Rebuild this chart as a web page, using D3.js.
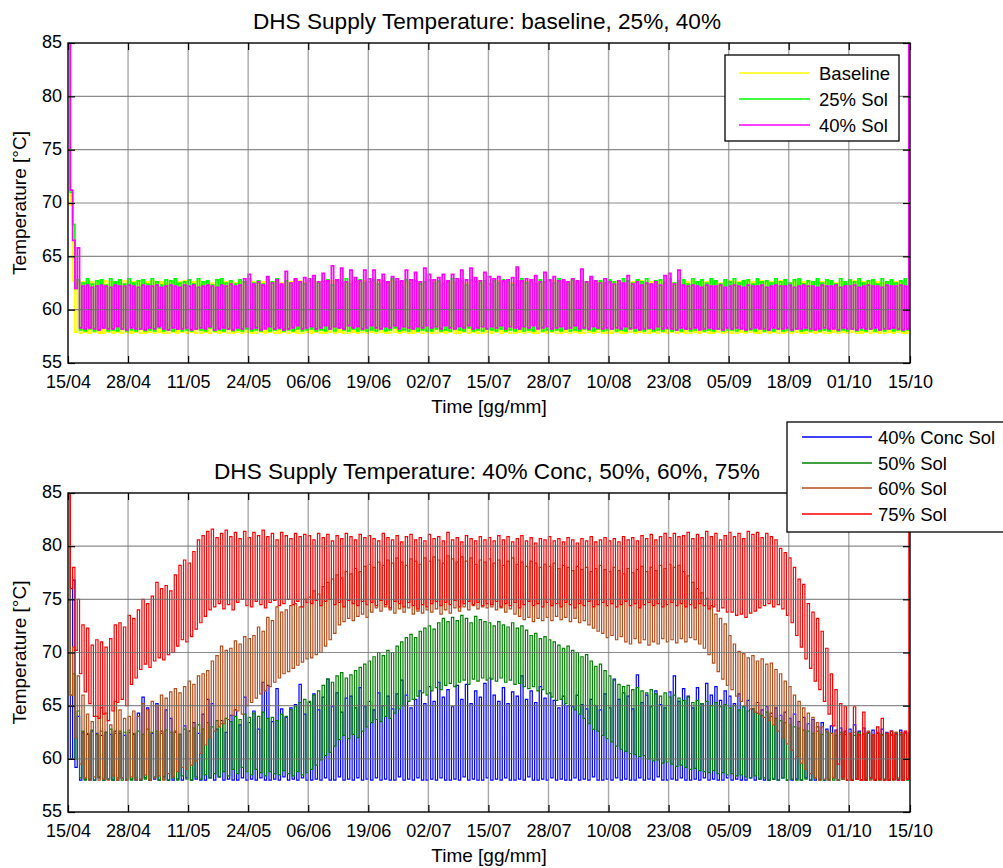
<!DOCTYPE html>
<html>
<head>
<meta charset="utf-8">
<script src="https://cdn.jsdelivr.net/npm/d3@7"></script>
<style>
  body { margin: 0; background: #fff; }
  svg { display: block; }
  text { font-family: "Liberation Sans", Arial, Helvetica, sans-serif; fill: #000; }
</style>
</head>
<body>
<svg id="chart" width="1003" height="868"></svg>
<script>
// ---------- axis values ----------
const tickDays   = [0, 13, 26, 39, 52, 65, 78, 91, 104, 117, 130, 143, 156, 169, 182.25];
const tickLabels = ["15/04","28/04","11/05","24/05","06/06","19/06","02/07","15/07",
                    "28/07","10/08","23/08","05/09","18/09","01/10","15/10"];
const tempTicks  = [55, 60, 65, 70, 75, 80, 85];
const dayEnd     = 182.25;   // right edge of the time axis
const lastDay    = 182.0;    // time of the final recorded value

// ---------- daily peak / trough supply temperatures [°C], 15/04 .. 14/10 ----------
// Baseline
const baseHigh = [
  85,62.7,62.6,62.6,62.7,62.6,62.5,62.6,62.7,62.6,62.6,62.5,62.7,
  62.6,62.6,62.7,62.5,62.6,62.7,62.6,62.6,62.5,62.7,62.6,62.6,62.7,
  62.5,62.6,62.7,62.6,62.6,62.5,62.7,62.6,62.6,62.7,62.5,62.6,62.6,
  62.7,62.6,62.5,62.6,62.7,62.6,62.6,62.5,62.7,62.6,62.6,62.7,62.5,
  62.6,62.7,62.6,62.5,62.6,62.7,62.6,62.6,62.5,62.7,62.6,62.6,62.7,
  62.6,62.5,62.7,62.6,62.6,62.7,62.5,62.6,62.6,62.7,62.6,62.5,62.6,
  62.7,62.6,62.6,62.5,62.7,62.6,62.6,62.7,62.5,62.6,62.6,62.7,62.6,
  62.5,62.6,62.7,62.6,62.6,62.5,62.7,62.6,62.6,62.7,62.5,62.6,62.6,
  62.6,62.7,62.5,62.6,62.6,62.7,62.6,62.5,62.6,62.7,62.6,62.6,62.5,
  62.7,62.6,62.6,62.5,62.7,62.6,62.6,62.7,62.5,62.6,62.6,62.7,62.6,
  62.6,62.5,62.7,62.6,62.6,62.7,62.5,62.6,62.6,62.7,62.6,62.5,62.6,
  62.7,62.6,62.6,62.5,62.7,62.6,62.6,62.7,62.5,62.6,62.6,62.7,62.6,
  62.5,62.6,62.7,62.6,62.6,62.5,62.7,62.6,62.6,62.7,62.5,62.6,62.6,
  62.6,62.7,62.5,62.6,62.6,62.7,62.6,62.5,62.6,62.7,62.6,62.6,62.6
];
const baseLow = [
  69.8,57.9,57.8,57.9,57.8,57.9,57.8,57.8,57.9,57.8,57.9,57.8,57.9,
  57.8,57.9,57.8,57.8,57.9,57.8,57.9,57.8,57.8,57.9,57.8,57.9,57.8,
  57.9,57.8,57.8,57.9,57.8,57.9,57.8,57.9,57.8,57.8,57.9,57.8,57.9,
  57.8,57.8,57.9,57.8,57.9,57.8,57.8,57.9,57.8,57.9,57.8,57.8,57.9,
  57.8,57.9,57.8,57.8,57.9,57.8,57.9,57.8,57.8,57.9,57.8,57.9,57.8,
  57.9,57.8,57.9,57.8,57.8,57.9,57.8,57.9,57.8,57.8,57.9,57.8,57.9,
  57.8,57.8,57.9,57.8,57.9,57.8,57.8,57.9,57.8,57.9,57.8,57.8,57.9,
  57.8,57.9,57.8,57.9,57.8,57.8,57.9,57.8,57.9,57.8,57.8,57.9,57.8,
  57.9,57.8,57.8,57.9,57.8,57.9,57.8,57.8,57.9,57.8,57.9,57.8,57.8,
  57.8,57.9,57.8,57.8,57.9,57.8,57.9,57.8,57.8,57.9,57.8,57.9,57.8,
  57.9,57.8,57.9,57.8,57.8,57.9,57.8,57.9,57.8,57.8,57.9,57.8,57.9,
  57.8,57.8,57.9,57.8,57.9,57.8,57.8,57.9,57.8,57.9,57.8,57.8,57.9,
  57.8,57.9,57.8,57.8,57.9,57.8,57.9,57.8,57.8,57.9,57.8,57.9,57.8,
  57.9,57.8,57.8,57.9,57.8,57.9,57.8,57.8,57.9,57.8,57.9,57.8,57.8
];
// 25% Sol
const sol25High = [
  85,68.0,62.8,62.5,62.9,62.4,62.7,62.8,62.3,62.9,62.6,62.8,62.4,
  62.9,62.5,62.7,62.8,62.4,62.9,62.6,62.3,62.8,62.7,62.9,62.5,62.6,
  62.8,62.4,62.9,62.6,62.7,62.3,62.8,62.9,62.5,62.7,62.4,62.8,62.6,
  62.9,62.5,62.7,62.4,62.8,62.6,62.9,62.3,62.7,62.5,62.8,62.6,62.4,
  62.7,62.9,62.5,62.6,62.8,62.3,62.7,62.5,62.9,62.4,62.6,62.8,62.5,
  62.6,62.8,62.4,62.7,62.5,62.9,62.6,62.3,62.8,62.5,62.7,62.4,62.6,
  62.8,62.5,62.7,62.4,62.6,62.9,62.5,62.7,62.3,62.8,62.6,62.5,62.7,
  62.4,62.7,62.5,62.8,62.6,62.3,62.7,62.9,62.5,62.6,62.4,62.8,62.6,
  62.7,62.5,62.9,62.6,62.4,62.8,62.5,62.7,62.6,62.9,62.4,62.7,62.5,
  62.8,62.6,62.4,62.9,62.7,62.5,62.8,62.6,62.9,62.4,62.7,62.8,62.5,
  62.9,62.5,62.7,62.8,62.4,62.9,62.6,62.8,62.5,62.9,62.7,62.4,62.8,
  62.6,62.9,62.5,62.7,62.8,62.4,62.9,62.6,62.7,62.5,62.9,62.6,62.8,
  62.5,62.8,62.9,62.4,62.7,62.6,62.9,62.5,62.8,62.7,62.4,62.9,62.6,
  62.8,62.6,62.9,62.5,62.7,62.8,62.4,62.9,62.6,62.8,62.5,62.7,62.9
];
const sol25Low = [
  71.0,62.0,58.1,58.0,58.2,58.0,58.1,58.3,58.0,58.1,58.0,58.2,58.0,
  58.1,58.0,58.2,58.0,58.1,58.0,58.3,58.0,58.1,58.0,58.2,58.0,58.1,
  58.0,58.2,58.1,58.0,58.3,58.0,58.1,58.0,58.2,58.0,58.1,58.0,58.2,
  58.0,58.1,58.0,58.3,58.0,58.1,58.2,58.0,58.1,58.0,58.2,58.0,58.1,
  58.2,58.0,58.1,58.0,58.2,58.0,58.3,58.1,58.0,58.2,58.0,58.1,58.0,
  58.1,58.0,58.2,58.0,58.1,58.3,58.0,58.1,58.0,58.2,58.0,58.1,58.0,
  58.0,58.2,58.0,58.1,58.0,58.2,58.1,58.0,58.3,58.0,58.1,58.0,58.2,
  58.1,58.0,58.2,58.0,58.1,58.0,58.2,58.0,58.1,58.0,58.3,58.0,58.1,
  58.0,58.1,58.0,58.2,58.0,58.1,58.0,58.2,58.1,58.0,58.2,58.0,58.1,
  58.2,58.0,58.1,58.0,58.3,58.0,58.1,58.0,58.2,58.0,58.1,58.0,58.2,
  58.0,58.1,58.0,58.2,58.0,58.1,58.2,58.0,58.1,58.0,58.2,58.0,58.1,
  58.1,58.0,58.2,58.0,58.1,58.0,58.3,58.0,58.1,58.0,58.2,58.0,58.1,
  58.0,58.2,58.0,58.1,58.0,58.2,58.0,58.1,58.0,58.3,58.0,58.1,58.0,
  58.2,58.0,58.1,58.0,58.2,58.0,58.1,58.0,58.2,58.0,58.1,58.0,58.1
];
// 40% Sol
const sol40High = [
  85,66.5,65.8,62.2,62.3,62.1,62.2,62.3,62.2,62.1,62.3,62.2,62.2,
  62.3,62.2,62.1,62.3,62.2,62.2,62.3,62.1,62.2,62.3,62.2,62.1,62.3,
  62.2,62.3,62.1,62.2,62.3,62.2,62.1,62.3,62.2,62.4,62.2,62.3,62.9,
  63.3,62.4,62.6,62.3,63.1,62.5,62.8,62.4,63.6,62.5,62.9,62.6,63.0,
  62.9,63.2,62.6,63.4,62.7,64.1,62.8,63.9,62.6,63.7,63.0,62.7,63.7,
  62.9,63.7,62.8,63.3,62.6,63.1,62.9,62.7,63.7,62.8,63.5,62.6,63.9,
  63.3,62.8,63.0,63.3,62.7,63.3,62.9,63.7,62.8,63.9,63.0,62.7,63.5,
  63.1,62.9,63.1,62.7,62.8,63.0,64.0,62.7,62.9,62.8,63.2,62.6,63.5,
  62.8,63.1,62.7,62.8,62.6,62.9,62.7,63.8,62.6,63.1,62.7,62.5,62.9,
  62.6,62.4,62.7,62.5,63.2,62.4,62.6,62.3,62.5,62.4,62.6,62.3,63.2,
  63.4,62.4,63.7,62.3,62.2,62.3,62.2,62.1,62.3,62.2,62.2,62.3,62.1,
  62.2,62.3,62.2,62.1,62.3,62.2,62.2,62.3,62.1,62.2,62.3,62.2,62.2,
  62.3,62.1,62.2,62.3,62.2,62.2,62.1,62.3,62.2,62.2,62.3,62.1,62.2,
  62.2,62.3,62.1,62.2,62.3,62.2,62.2,62.1,62.3,62.2,62.2,62.3,62.2
];
const sol40Low = [
  71.2,62.0,58.3,58.2,58.3,58.2,58.1,58.3,58.2,58.2,58.4,58.2,58.1,
  58.3,58.2,58.2,58.1,58.3,58.2,58.4,58.2,58.1,58.3,58.2,58.2,58.3,
  58.1,58.2,58.3,58.2,58.4,58.1,58.2,58.3,58.2,58.1,58.3,58.2,58.4,
  58.2,58.3,58.1,58.2,58.4,58.2,58.3,58.1,58.2,58.3,58.5,58.2,58.3,
  58.4,58.2,58.3,58.5,58.2,58.4,58.3,58.2,58.5,58.3,58.4,58.2,58.3,
  58.5,58.3,58.2,58.4,58.3,58.5,58.2,58.4,58.3,58.2,58.4,58.3,58.5,
  58.3,58.4,58.2,58.5,58.3,58.2,58.4,58.3,58.5,58.2,58.3,58.4,58.2,
  58.4,58.3,58.5,58.2,58.4,58.3,58.2,58.4,58.3,58.5,58.2,58.3,58.4,
  58.2,58.3,58.4,58.2,58.3,58.5,58.2,58.3,58.2,58.4,58.3,58.2,58.3,
  58.2,58.3,58.2,58.4,58.2,58.3,58.1,58.2,58.3,58.2,58.4,58.2,58.3,
  58.2,58.1,58.3,58.2,58.2,58.3,58.1,58.2,58.3,58.2,58.2,58.1,58.3,
  58.2,58.3,58.2,58.1,58.2,58.3,58.2,58.2,58.1,58.3,58.2,58.2,58.3,
  58.1,58.2,58.2,58.3,58.2,58.1,58.2,58.3,58.2,58.2,58.1,58.3,58.2,
  58.2,58.1,58.3,58.2,58.2,58.3,58.1,58.2,58.2,58.3,58.2,58.1,58.2
];
// 40% Conc Sol
const conc40High = [
  85,76.8,64.0,62.5,62.3,62.6,62.4,62.2,62.5,62.3,62.6,62.4,62.2,
  62.5,62.3,64.3,65.8,64.8,62.4,65.2,62.6,64.6,63.8,62.5,62.3,63.1,
  62.6,63.4,62.4,64.2,65.6,65.2,62.8,63.6,62.5,64.1,64.6,63.2,65.8,
  63.4,64.5,62.8,67.2,66.9,63.5,66.6,64.7,63.9,64.8,65.1,67.0,64.2,
  65.3,66.1,64.6,65.8,67.5,64.9,66.2,64.4,65.7,65.9,64.8,66.7,64.9,
  65.4,64.6,66.2,65.0,65.9,64.7,66.1,67.4,66.0,64.8,65.6,66.4,65.2,
  66.8,65.4,67.2,65.8,66.5,64.9,66.9,65.6,67.0,65.2,66.4,65.8,67.1,
  67.6,66.0,65.4,66.7,65.2,66.3,65.9,67.8,65.6,66.4,65.3,66.8,65.7,
  66.2,65.5,64.8,65.9,65.0,64.9,66.0,65.1,64.7,65.6,65.0,64.6,66.1,
  64.8,67.5,65.6,66.2,65.9,64.7,67.9,65.3,66.0,64.9,66.4,65.1,64.8,
  66.3,67.8,65.4,66.6,65.9,64.8,66.7,65.2,67.1,66.0,66.8,65.5,66.4,
  65.9,65.2,66.1,64.9,65.5,64.7,65.3,64.6,64.9,64.3,64.8,64.1,64.4,
  63.8,64.2,63.5,63.9,63.3,63.7,63.0,63.4,62.8,63.1,62.7,62.9,62.6,
  62.8,63.2,62.6,62.9,62.5,62.7,62.4,62.8,62.5,62.6,62.4,62.7,62.5
];
const conc40Low = [
  60.0,59.2,58.0,58.1,58.0,58.0,58.2,58.0,58.1,58.0,58.0,58.2,58.0,
  58.1,58.0,58.0,58.2,58.0,58.1,58.0,58.3,58.0,58.0,58.1,58.0,58.2,
  58.0,58.1,58.0,58.0,58.2,58.0,58.3,58.0,58.1,58.0,58.0,58.2,58.0,
  58.1,58.0,58.2,58.0,58.0,58.1,58.0,58.3,58.0,58.1,58.0,58.2,58.0,
  58.0,58.1,58.0,58.2,58.0,58.0,58.3,58.0,58.1,58.0,58.2,58.0,58.1,
  58.0,58.2,58.0,58.1,58.0,58.0,58.3,58.0,58.1,58.0,58.2,58.0,58.0,
  58.1,58.0,58.2,58.0,58.0,58.1,58.0,58.3,58.0,58.1,58.0,58.0,58.2,
  58.0,58.1,58.0,58.2,58.0,58.0,58.1,58.0,58.3,58.0,58.0,58.1,58.0,
  58.2,58.0,58.1,58.0,58.0,58.2,58.0,58.1,58.0,58.3,58.0,58.0,58.1,
  58.0,58.2,58.0,58.1,58.0,58.0,58.2,58.0,58.1,58.0,58.3,58.0,58.0,
  58.1,58.0,58.2,58.0,58.0,58.1,58.0,58.2,58.0,58.1,58.0,58.0,58.2,
  58.0,58.1,58.0,58.0,58.2,58.0,58.1,58.0,58.0,58.1,58.0,58.2,58.0,
  58.0,58.1,58.0,58.2,58.0,58.0,58.1,58.0,58.0,58.2,58.0,58.1,58.0,
  58.0,58.1,58.0,58.0,58.2,58.0,58.1,58.0,58.0,58.1,58.0,58.0,58.1
];
// 50% Sol
const sol50High = [
  85,68.0,64.5,62.6,62.4,62.7,62.3,62.6,62.5,62.8,62.4,62.6,62.5,
  62.7,62.4,62.6,62.3,62.8,62.5,62.6,62.4,62.7,62.5,62.6,62.3,62.8,
  62.6,62.9,63.2,62.8,63.4,63.0,63.6,63.3,63.8,63.5,64.0,63.7,64.2,
  63.9,64.3,64.0,64.4,63.8,63.9,63.6,64.2,64.0,64.6,64.9,65.3,65.6,
  65.4,66.0,66.4,66.9,67.5,67.2,67.8,68.1,67.6,67.9,68.3,68.6,68.9,
  69.2,69.6,70.0,69.7,70.2,70.0,70.6,71.0,71.4,71.7,71.4,72.0,72.3,
  72.5,72.2,72.8,73.2,72.9,73.3,73.0,73.5,73.2,72.8,73.4,73.1,72.9,
  72.8,72.5,72.9,72.6,72.4,72.8,72.3,72.5,72.1,71.6,71.8,71.3,71.5,
  71.2,71.0,70.7,70.4,70.6,70.2,70.0,69.6,69.8,69.2,68.7,68.9,68.3,
  67.8,67.4,67.0,66.8,66.9,66.5,66.7,66.4,66.2,66.5,66.1,65.9,66.2,
  65.8,66.0,65.7,65.5,65.8,65.3,65.5,65.2,65.4,65.0,65.3,64.9,65.1,
  64.8,65.0,64.6,64.9,64.5,64.7,64.3,64.1,64.4,64.0,63.8,63.6,63.4,
  63.2,63.0,62.9,62.7,62.6,62.4,62.6,62.3,62.5,62.4,62.2,62.5,62.3,
  62.4,62.2,62.5,62.3,62.4,62.2,62.5,62.3,62.4,62.2,62.5,62.3,62.4
];
const sol50Low = [
  66.0,60.0,58.2,58.0,58.1,58.0,58.3,58.0,58.1,58.0,58.2,58.0,58.1,
  58.0,58.2,58.0,58.1,58.0,58.3,58.0,58.1,58.0,58.2,58.0,58.4,58.1,
  58.0,58.3,58.1,58.5,58.2,58.6,58.3,58.8,58.4,59.0,58.6,59.2,58.8,
  58.5,59.0,58.7,58.4,58.8,58.6,58.5,58.9,58.6,58.4,58.8,58.5,58.7,
  59.0,59.4,59.9,60.3,60.6,61.2,61.8,62.2,61.9,62.3,62.0,62.6,63.0,
  63.4,63.7,63.5,64.0,63.8,64.3,64.7,65.0,65.4,65.6,65.9,66.2,66.0,
  66.4,66.7,66.5,66.9,67.1,66.8,67.2,67.4,67.0,67.5,67.3,67.6,67.4,
  67.5,67.3,67.6,67.2,67.4,67.0,67.1,66.8,66.6,66.8,66.4,66.5,66.1,
  65.8,65.5,65.6,65.2,65.0,64.6,64.2,63.8,63.3,62.8,62.6,62.2,61.9,
  61.6,61.2,60.9,60.7,60.5,60.4,60.2,60.3,60.0,59.8,59.9,59.6,59.7,
  59.5,59.3,59.4,59.2,59.0,59.1,58.9,58.8,58.7,58.9,58.6,58.7,58.5,
  58.6,58.4,58.5,58.3,58.2,58.4,58.1,58.2,58.0,58.1,58.0,58.2,58.0,
  58.1,58.0,58.0,58.1,58.0,58.2,58.0,58.0,58.1,58.0,58.0,58.1,58.0,
  58.0,58.1,58.0,58.0,58.1,58.0,58.0,58.1,58.0,58.0,58.1,58.0,58.0
];
// 60% Sol
const sol60High = [
  85,70.5,67.8,66.0,64.2,63.5,64.0,64.8,64.3,63.2,65.4,64.6,63.8,
  64.0,64.5,64.0,65.2,64.6,65.4,65.0,66.0,65.7,66.3,66.6,66.2,66.8,
  67.3,67.0,67.8,68.0,68.3,69.2,69.7,70.6,70.2,70.4,71.1,70.8,71.5,
  71.3,71.6,72.4,72.0,73.3,73.0,74.3,73.8,74.0,74.4,74.6,74.3,75.0,
  75.2,75.8,75.5,76.2,76.6,76.9,77.3,77.0,77.6,77.4,77.9,77.6,78.1,
  78.3,78.0,78.5,78.2,78.7,78.4,78.9,78.5,78.2,78.8,78.6,78.3,78.9,
  78.6,79.0,78.7,78.4,79.1,78.8,78.5,79.0,78.6,78.9,78.3,78.7,78.5,
  78.8,78.4,78.7,78.2,78.6,78.9,78.3,78.5,78.1,78.6,78.4,78.0,78.3,
  78.1,78.4,77.9,78.2,78.0,77.7,78.1,77.8,78.0,77.6,77.9,78.2,77.8,
  77.6,78.0,77.7,77.4,77.9,77.5,77.8,78.1,77.6,78.0,77.7,78.2,77.9,
  78.3,78.0,78.2,77.6,77.2,76.6,76.0,75.6,75.1,74.4,73.6,73.2,72.7,
  71.6,70.8,70.1,69.9,69.5,69.7,69.2,69.4,68.9,69.0,68.4,68.0,67.3,
  66.8,66.0,65.4,64.8,64.3,63.9,63.4,63.0,62.6,62.4,62.6,62.3,62.5,
  62.3,62.5,62.2,62.4,62.6,62.3,62.5,62.2,62.4,62.3,62.5,62.2,62.4
];
const sol60Low = [
  66.0,62.0,59.5,58.2,58.0,58.3,58.0,58.1,58.0,58.4,58.0,58.2,58.0,
  58.3,58.0,58.1,58.5,58.0,58.2,58.4,58.0,58.6,58.3,58.8,59.2,59.0,
  59.4,59.8,60.5,61.3,62.0,62.6,63.0,63.3,63.7,64.1,64.5,64.2,65.0,
  65.3,65.7,66.1,66.4,66.8,67.2,67.6,68.0,68.2,68.5,68.8,69.1,69.4,
  69.5,69.8,70.0,70.6,71.2,71.8,72.6,72.9,73.2,73.0,73.4,73.6,73.3,
  73.8,74.2,73.9,74.3,74.0,73.7,74.1,73.8,74.2,73.6,73.9,73.7,74.0,
  73.8,74.1,73.6,74.0,73.7,74.2,73.9,74.3,74.0,74.4,74.1,74.3,74.2,
  74.3,74.0,74.2,73.8,74.1,73.6,73.4,73.1,73.3,72.9,73.2,73.0,73.3,
  73.0,73.4,73.1,73.3,72.9,73.2,72.8,73.0,72.6,72.3,72.0,71.8,71.4,
  71.6,71.2,71.5,71.0,70.8,71.3,70.9,71.2,70.7,71.0,70.8,71.3,71.0,
  71.2,70.9,71.3,71.0,71.4,71.2,70.8,70.4,69.8,69.0,68.2,67.5,66.9,
  66.5,65.9,65.4,65.0,64.7,64.4,64.2,63.9,63.6,63.2,62.6,62.0,61.4,
  60.8,60.2,59.6,59.0,58.6,58.2,58.0,58.1,58.0,58.2,58.0,58.1,58.0,
  58.0,58.1,58.0,58.2,58.0,58.1,58.0,58.0,58.1,58.0,58.2,58.0,58.1
];
// 75% Sol
const sol75High = [
  85,78.0,75.0,72.6,72.3,70.7,71.2,71.0,70.5,71.3,72.6,72.8,72.4,
  73.5,73.2,74.0,75.0,74.6,75.3,76.6,76.0,76.3,75.8,77.3,78.2,78.7,
  78.4,79.5,80.6,81.0,81.4,81.6,80.8,81.2,81.5,80.9,81.3,80.7,81.4,
  80.8,81.3,81.0,81.5,80.9,81.2,80.6,81.3,81.0,80.7,81.2,80.9,81.1,
  81.0,80.6,81.2,80.8,81.1,80.5,81.0,80.7,81.2,80.9,80.6,81.1,80.8,
  81.0,80.7,80.5,81.2,80.8,80.6,81.0,80.4,80.9,81.1,80.6,80.8,80.5,
  81.1,80.7,80.9,80.5,81.3,80.6,80.8,80.4,81.0,80.7,80.5,80.9,80.6,
  80.8,80.5,81.0,80.6,80.9,80.4,80.7,81.0,80.5,80.8,80.3,80.7,80.6,
  80.9,80.5,80.7,80.4,80.8,80.6,80.3,80.7,80.5,80.9,80.4,80.6,80.8,
  80.5,80.7,80.4,80.9,80.6,80.8,80.5,81.0,80.7,81.1,80.6,80.9,81.2,
  80.8,81.2,80.9,81.0,81.3,80.7,81.1,80.8,81.4,80.9,81.2,80.6,81.0,
  81.3,80.9,81.2,80.7,81.4,81.1,81.3,80.8,81.2,80.9,80.6,79.8,79.4,
  78.9,78.0,76.9,76.4,74.6,73.8,73.2,72.0,70.4,68.0,66.5,65.2,64.9,
  62.4,64.9,62.3,64.4,62.5,62.2,63.0,63.8,62.4,62.6,62.3,62.5,62.6
];
const sol75Low = [
  76.0,70.2,68.0,66.3,65.2,64.0,63.8,64.2,63.6,64.5,65.3,65.6,65.0,
  67.0,67.6,68.4,68.9,68.6,69.2,69.5,69.3,69.8,70.0,70.6,71.2,71.0,
  71.5,72.2,72.8,73.4,74.0,74.3,74.6,74.1,74.5,74.0,74.7,75.0,74.4,
  74.3,74.8,74.5,74.2,74.7,74.9,74.4,74.6,75.0,74.5,74.8,74.3,74.7,
  74.6,74.9,74.4,74.8,75.0,74.5,74.7,74.3,74.9,74.6,74.4,74.8,74.5,
  74.7,74.4,74.9,74.5,74.2,74.8,74.6,74.3,74.7,74.4,74.1,74.5,74.3,
  74.6,74.8,74.4,74.7,74.5,74.9,74.3,74.6,74.8,74.5,74.7,74.4,74.6,
  74.5,74.8,74.3,74.6,74.4,74.7,74.2,74.5,74.8,74.4,74.6,74.3,74.7,
  74.4,74.6,74.3,74.7,74.5,74.2,74.6,74.4,74.8,74.3,74.5,74.7,74.4,
  74.6,74.3,74.5,74.8,74.4,74.6,74.2,74.5,74.7,74.4,74.6,74.3,74.5,
  74.7,74.4,74.6,74.3,74.5,74.2,74.6,74.4,74.1,74.3,73.9,74.2,73.8,
  73.8,73.5,73.6,73.3,73.7,73.9,74.2,74.4,74.6,74.3,74.5,74.1,73.5,
  72.8,71.6,70.5,69.4,68.5,67.3,66.5,65.4,64.2,63.1,59.5,58.3,58.0,
  58.0,58.1,58.0,58.0,58.2,58.0,58.1,58.0,58.0,58.1,58.0,58.0,58.1
];
// last recorded value of each run (15/10)
const topEndValues    = [62.6, 62.7, 85];
const bottomEndValues = [62.5, 62.4, 62.4, 85];

const topNames    = ["Baseline", "25% Sol", "40% Sol"];
const bottomNames = ["40% Conc Sol", "50% Sol", "60% Sol", "75% Sol"];

// ---------- drawing ----------
const svg = d3.select("#chart");
svg.append("rect").attr("width", 1003).attr("height", 868).attr("fill", "#fff");

const FONT = '"Liberation Sans", Arial, Helvetica, sans-serif';
const X0 = 68, X1 = 910;

// Each day contributes its peak and then its trough; the run closes on its last value.
function dailyPoints(high, low, endValue) {
  const pts = [];
  high.forEach((h, i) => {
    pts.push([i, h]);
    pts.push([i + 0.5, low[i]]);
  });
  pts.push([lastDay, endValue]);
  return pts;
}

function panel(cfg) {
  const x = d3.scaleLinear().domain([0, dayEnd]).range([X0, X1]);
  const y = d3.scaleLinear().domain([55, 85]).range([cfg.bottom, cfg.top]);
  const g = svg.append("g");
  const clipId = "clip" + cfg.id;

  g.append("clipPath").attr("id", clipId)
    .append("rect").attr("x", X0).attr("y", cfg.top)
    .attr("width", X1 - X0).attr("height", cfg.bottom - cfg.top);

  const line = d3.line()
    .x(d => x(d[0])).y(d => y(d[1]))
    .curve(d3.curveStepAfter);

  const plot = g.append("g").attr("clip-path", `url(#${clipId})`);
  cfg.series.forEach(s => {
    plot.append("path")
      .attr("d", line(dailyPoints(s.high, s.low, s.end)))
      .attr("fill", "none")
      .attr("stroke", s.color)
      .attr("stroke-width", cfg.lineWidth)
      .attr("stroke-linejoin", "miter");
  });

  // grid
  const grid = g.append("g");
  grid.selectAll("line.v").data(tickDays.slice(1, -1)).enter().append("line")
    .attr("x1", d => x(d)).attr("x2", d => x(d))
    .attr("y1", cfg.top).attr("y2", cfg.bottom)
    .attr("stroke", "#8c8c8c").attr("stroke-opacity", 0.75).attr("stroke-width", 1.4);
  grid.selectAll("line.h").data(tempTicks.slice(1, -1)).enter().append("line")
    .attr("x1", X0).attr("x2", X1)
    .attr("y1", d => y(d)).attr("y2", d => y(d))
    .attr("stroke", "#6e6e6e").attr("stroke-opacity", 0.8).attr("stroke-width", 1.1);

  // axes with inward ticks
  const fmtX = d => tickLabels[tickDays.indexOf(d)];
  const styleAxis = sel => {
    sel.select(".domain").remove();
    sel.selectAll(".tick line").attr("stroke", "#000").attr("stroke-width", 1.2);
    sel.selectAll("text").attr("font-family", FONT).attr("font-size", 18).attr("fill", "#000");
  };
  g.append("g").attr("transform", `translate(0,${cfg.bottom})`)
    .call(d3.axisBottom(x).tickValues(tickDays).tickFormat(fmtX)
      .tickSizeInner(-7).tickSizeOuter(0).tickPadding(12))
    .call(styleAxis);
  g.append("g").attr("transform", `translate(0,${cfg.top})`)
    .call(d3.axisTop(x).tickValues(tickDays).tickFormat("")
      .tickSizeInner(-7).tickSizeOuter(0))
    .call(styleAxis);
  g.append("g").attr("transform", `translate(${X0},0)`)
    .call(d3.axisLeft(y).tickValues(tempTicks).tickFormat(d3.format("d"))
      .tickSizeInner(-7).tickSizeOuter(0).tickPadding(6))
    .call(styleAxis)
    .call(sel => sel.selectAll("text").attr("dy", "0.26em"));
  g.append("g").attr("transform", `translate(${X1},0)`)
    .call(d3.axisRight(y).tickValues(tempTicks).tickFormat("")
      .tickSizeInner(-7).tickSizeOuter(0))
    .call(styleAxis);

  // frame
  g.append("rect").attr("x", X0).attr("y", cfg.top)
    .attr("width", X1 - X0).attr("height", cfg.bottom - cfg.top)
    .attr("fill", "none").attr("stroke", "#000").attr("stroke-width", 1.4);

  // title and axis labels
  g.append("text").attr("x", 487).attr("y", cfg.top - 14)
    .attr("text-anchor", "middle").attr("font-size", 22.6).text(cfg.title);
  g.append("text").attr("x", 489).attr("y", cfg.bottom + 50)
    .attr("text-anchor", "middle").attr("font-size", 19).text("Time [gg/mm]");
  g.append("text")
    .attr("transform", `translate(26,${(cfg.top + cfg.bottom) / 2}) rotate(-90)`)
    .attr("text-anchor", "middle").attr("font-size", 19).text("Temperature [°C]");

  // legend
  const L = cfg.legend;
  const lg = g.append("g");
  lg.append("rect").attr("x", L.x).attr("y", L.y).attr("width", L.w).attr("height", L.h)
    .attr("fill", "#fff").attr("stroke", "#000").attr("stroke-width", 1.3);
  cfg.series.forEach((s, i) => {
    const ry = Math.round(L.firstRow + i * L.rowStep);
    lg.append("line").attr("x1", L.lineX0).attr("x2", L.lineX1)
      .attr("y1", ry).attr("y2", ry).attr("stroke", s.color).attr("stroke-width", 1.3);
    lg.append("text").attr("x", L.textX).attr("y", ry + 7)
      .attr("font-size", 18.5).text(s.name);
  });
}

panel({
  id: "top", top: 43, bottom: 363, lineWidth: 1.7,
  title: "DHS Supply Temperature: baseline, 25%, 40%",
  series: [
    { name: topNames[0], color: "#ffff00", high: baseHigh,  low: baseLow,  end: topEndValues[0] },
    { name: topNames[1], color: "#00ff00", high: sol25High, low: sol25Low, end: topEndValues[1] },
    { name: topNames[2], color: "#ff00ff", high: sol40High, low: sol40Low, end: topEndValues[2] }
  ],
  legend: { x: 725, y: 55, w: 174, h: 86, firstRow: 73, rowStep: 26,
            lineX0: 739, lineX1: 810, textX: 819 }
});

panel({
  id: "bottom", top: 493, bottom: 812, lineWidth: 1.2,
  title: "DHS Supply Temperature: 40% Conc, 50%, 60%, 75%",
  series: [
    { name: bottomNames[0], color: "#0000ff", high: conc40High, low: conc40Low, end: bottomEndValues[0] },
    { name: bottomNames[1], color: "#008000", high: sol50High,  low: sol50Low,  end: bottomEndValues[1] },
    { name: bottomNames[2], color: "#b34d1a", high: sol60High,  low: sol60Low,  end: bottomEndValues[2] },
    { name: bottomNames[3], color: "#ff0000", high: sol75High,  low: sol75Low,  end: bottomEndValues[3] }
  ],
  legend: { x: 787, y: 422, w: 230, h: 110, firstRow: 437, rowStep: 25.7,
            lineX0: 802, lineX1: 872, textX: 878 }
});
</script>
</body>
</html>
